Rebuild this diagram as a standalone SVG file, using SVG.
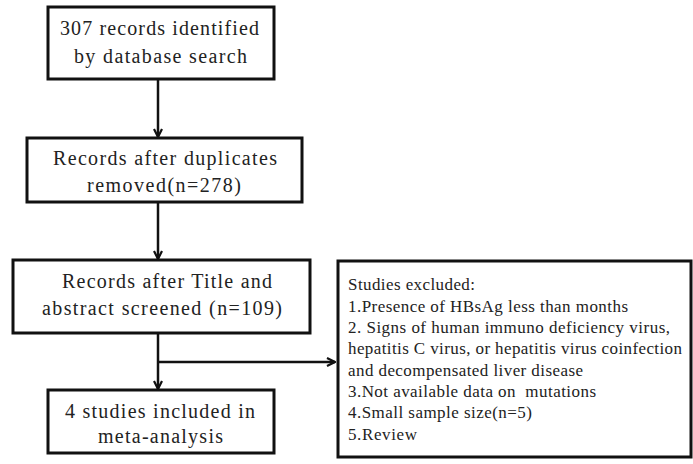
<svg xmlns="http://www.w3.org/2000/svg" width="693" height="464" viewBox="0 0 693 464">
<style>
.box{fill:#fff;stroke:#111;stroke-width:3}
.t{font-family:'Liberation Serif','Times New Roman',serif;font-size:20px;fill:#222;text-anchor:middle}
.s{font-family:'Liberation Serif','Times New Roman',serif;font-size:17px;fill:#222}
.c{fill:none;stroke:#111;stroke-width:2.5}
</style>
<defs>
<marker id="ah" viewBox="0 0 10 10" refX="9" refY="5" markerWidth="4" markerHeight="4" orient="auto" markerUnits="strokeWidth">
<path d="M1,1 L9,5 L1,9" fill="none" stroke="#111" stroke-width="2.2"/>
</marker>
</defs>
<rect width="693" height="464" fill="#fff"/>
<g id="connectors">
<line class="c" x1="158" y1="80" x2="158" y2="137" marker-end="url(#ah)"/>
<line class="c" x1="158" y1="202" x2="158" y2="259" marker-end="url(#ah)"/>
<line class="c" x1="158" y1="333" x2="158" y2="389" marker-end="url(#ah)"/>
<line class="c" x1="158" y1="362" x2="335" y2="362" marker-end="url(#ah)"/>
</g>
<g id="n1">
<rect class="box" x="48" y="7" width="226" height="72"/>
<text class="t" x="159.5" y="35" textLength="199">307 records identified</text>
<text class="t" x="160.5" y="63" textLength="173">by database search</text>
</g>
<g id="n2">
<rect class="box" x="27" y="138" width="275" height="64"/>
<text class="t" x="165" y="165" textLength="224">Records after duplicates</text>
<text class="t" x="164" y="192" textLength="154">removed(n=278)</text>
</g>
<g id="n3">
<rect class="box" x="13" y="260" width="297" height="73"/>
<text class="t" x="167" y="288" textLength="210">Records after Title and</text>
<text class="t" x="162" y="315" textLength="240">abstract screened (n=109)</text>
</g>
<g id="n4">
<rect class="box" x="48" y="390" width="226" height="63"/>
<text class="t" x="160" y="418" textLength="190">4 studies included in</text>
<text class="t" x="160.5" y="443" textLength="125">meta-analysis</text>
</g>
<g id="n5">
<rect class="box" x="338" y="261" width="353" height="196"/>
<text class="s" x="348" y="290" textLength="127">Studies excluded:</text>
<text class="s" x="348" y="312" textLength="280">1.Presence of HBsAg less than months</text>
<text class="s" x="348" y="333" textLength="322">2. Signs of human immuno deficiency virus,</text>
<text class="s" x="348" y="354" textLength="334">hepatitis C virus, or hepatitis virus coinfection</text>
<text class="s" x="348" y="376" textLength="235">and decompensated liver disease</text>
<text class="s" x="348" y="397" textLength="248" xml:space="preserve">3.Not available data on  mutations</text>
<text class="s" x="348" y="418" textLength="184">4.Small sample size(n=5)</text>
<text class="s" x="348" y="440" textLength="69">5.Review</text>
</g>
</svg>
